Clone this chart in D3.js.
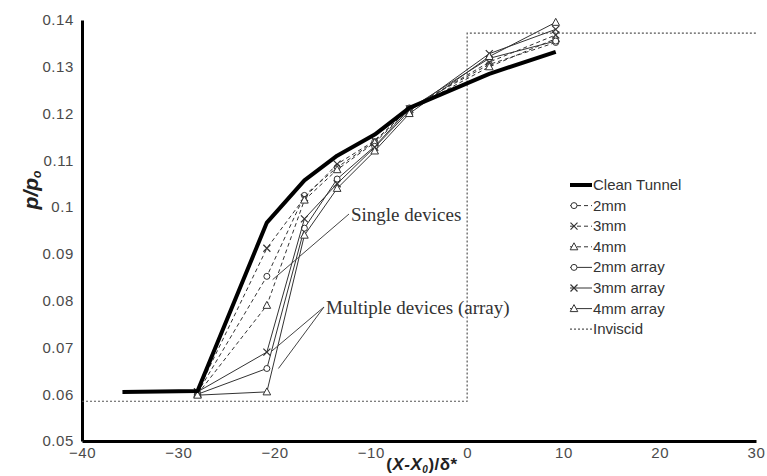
<!DOCTYPE html>
<html>
<head>
<meta charset="utf-8">
<script src="https://cdnjs.cloudflare.com/ajax/libs/d3/7.8.5/d3.min.js"></script>
<style>
  body { margin: 0; background: #fff; }
  svg { display: block; }
</style>
</head>
<body>
<script>
// stations along the ramp, (X-X0)/delta*
var xStations = [-28, -20.8, -16.9, -13.5, -9.6, -6, 2.3, 9.2];
var xClean = [-35.8, -28, -20.8, -16.9, -13.5, -9.6, -6, 2.3, 9.2];

var cleanTunnel = [0.0605, 0.0607, 0.0967, 0.1057, 0.1110, 0.1155, 0.1212, 0.1285, 0.1332];
var single2 = [0.0603, 0.0852, 0.1025, 0.1085, 0.1140, 0.1212, 0.1305, 0.1352];
var single3 = [0.0605, 0.0912, 0.1020, 0.1092, 0.1142, 0.1210, 0.1310, 0.1368];
var single4 = [0.0600, 0.0790, 0.1015, 0.1080, 0.1138, 0.1208, 0.1300, 0.1360];
var array2 = [0.0600, 0.0655, 0.0955, 0.1060, 0.1130, 0.1210, 0.1318, 0.1355];
var array3 = [0.0605, 0.0690, 0.0975, 0.1050, 0.1128, 0.1205, 0.1328, 0.1380];
var array4 = [0.0598, 0.0605, 0.0940, 0.1040, 0.1120, 0.1200, 0.1322, 0.1395];

var inviscidX = [-40, 0, 0, 30];
var inviscidY = [0.0585, 0.0585, 0.1372, 0.1372];

var xTicks = [-40, -30, -20, -10, 0, 10, 20, 30];
var yTicks = [0.05, 0.06, 0.07, 0.08, 0.09, 0.1, 0.11, 0.12, 0.13, 0.14];

var series = [
  {name: "2mm", x: xStations, y: single2, marker: "circle", dash: "4,3"},
  {name: "3mm", x: xStations, y: single3, marker: "cross", dash: "4,3"},
  {name: "4mm", x: xStations, y: single4, marker: "triangle", dash: "4,3"},
  {name: "2mm array", x: xStations, y: array2, marker: "circle", dash: null},
  {name: "3mm array", x: xStations, y: array3, marker: "cross", dash: null},
  {name: "4mm array", x: xStations, y: array4, marker: "triangle", dash: null}
];

var W = 767, H = 476;
var svg = d3.select("body").append("svg").attr("width", W).attr("height", H);

var x = d3.scaleLinear().domain([-40, 30]).range([82, 756]);
var y = d3.scaleLinear().domain([0.05, 0.14]).range([441, 20]);

var sans = "Liberation Sans, Arial, sans-serif";

// axes (no tick marks, just labels)
var xAxis = d3.axisBottom(x).tickValues(xTicks).tickSize(0).tickPadding(6).tickFormat(d3.format("d"));
var yAxis = d3.axisLeft(y).tickValues(yTicks).tickSize(0).tickPadding(8).tickFormat(function(d) { return d3.format("")(+d.toFixed(2)); });

var gx = svg.append("g").attr("transform", "translate(0," + y(0.05) + ")").call(xAxis);
var gy = svg.append("g").attr("transform", "translate(" + x(-40) + ",0)").call(yAxis);
[gx, gy].forEach(function(g) {
  g.select(".domain").attr("stroke", "#000").attr("stroke-width", 3);
  g.selectAll("text").attr("font-family", sans)
    .attr("font-size", 15).attr("letter-spacing", 0.6).attr("fill", "#4a4a4a");
});

var line = d3.line().x(function(d) { return x(d[0]); }).y(function(d) { return y(d[1]); });

// inviscid
svg.append("path")
  .datum(d3.zip(inviscidX, inviscidY))
  .attr("d", line)
  .attr("fill", "none").attr("stroke", "#555").attr("stroke-width", 1.2)
  .attr("stroke-dasharray", "2,2");

function drawMarker(g, type, cx, cy, stroke) {
  if (type === "circle") {
    g.append("circle").attr("cx", cx).attr("cy", cy).attr("r", 3)
      .attr("fill", "#fff").attr("stroke", stroke).attr("stroke-width", 1);
  } else if (type === "cross") {
    g.append("path").attr("d", "M" + (cx - 3.5) + "," + (cy - 3.5) + "L" + (cx + 3.5) + "," + (cy + 3.5) +
      "M" + (cx - 3.5) + "," + (cy + 3.5) + "L" + (cx + 3.5) + "," + (cy - 3.5))
      .attr("stroke", stroke).attr("stroke-width", 1.2);
  } else {
    g.append("path").attr("d", "M" + cx + "," + (cy - 4) + "L" + (cx + 3.8) + "," + (cy + 3) + "L" + (cx - 3.8) + "," + (cy + 3) + "Z")
      .attr("fill", "#fff").attr("stroke", stroke).attr("stroke-width", 1);
  }
}

series.forEach(function(s) {
  var pts = d3.zip(s.x, s.y);
  svg.append("path").datum(pts).attr("d", line)
    .attr("fill", "none").attr("stroke", "#333").attr("stroke-width", 1)
    .attr("stroke-dasharray", s.dash);
  var g = svg.append("g");
  pts.forEach(function(p) { drawMarker(g, s.marker, x(p[0]), y(p[1]), "#333"); });
});

// clean tunnel on top
svg.append("path")
  .datum(d3.zip(xClean, cleanTunnel))
  .attr("d", line)
  .attr("fill", "none").attr("stroke", "#000").attr("stroke-width", 4)
  .attr("stroke-linejoin", "round");

// annotations
var serif = "Liberation Serif, Times New Roman, serif";
svg.append("line").attr("x1", 349).attr("y1", 214).attr("x2", x(-20.2)).attr("y2", y(0.0845))
  .attr("stroke", "#444").attr("stroke-width", 1);
svg.append("text").attr("x", 351).attr("y", 221).text("Single devices")
  .attr("font-family", serif).attr("font-size", 19).attr("fill", "#333");

svg.append("line").attr("x1", 324).attr("y1", 307).attr("x2", x(-20.3)).attr("y2", y(0.0692))
  .attr("stroke", "#444").attr("stroke-width", 1);
svg.append("line").attr("x1", 324).attr("y1", 307).attr("x2", x(-19.6)).attr("y2", y(0.0655))
  .attr("stroke", "#444").attr("stroke-width", 1);
svg.append("text").attr("x", 326).attr("y", 314).text("Multiple devices (array)")
  .attr("font-family", serif).attr("font-size", 19).attr("fill", "#333");

// legend
var legendItems = [
  {name: "Clean Tunnel", marker: null, dash: null, width: 4},
  {name: "2mm", marker: "circle", dash: "4,3", width: 1},
  {name: "3mm", marker: "cross", dash: "4,3", width: 1},
  {name: "4mm", marker: "triangle", dash: "4,3", width: 1},
  {name: "2mm array", marker: "circle", dash: null, width: 1},
  {name: "3mm array", marker: "cross", dash: null, width: 1},
  {name: "4mm array", marker: "triangle", dash: null, width: 1},
  {name: "Inviscid", marker: null, dash: "2,2", width: 1.2}
];
var lg = svg.append("g").attr("transform", "translate(570,185)");
legendItems.forEach(function(it, i) {
  var yy = i * 20.6;
  lg.append("line").attr("x1", 0).attr("x2", 22).attr("y1", yy).attr("y2", yy)
    .attr("stroke", it.name === "Inviscid" ? "#555" : (it.width > 2 ? "#000" : "#333"))
    .attr("stroke-width", it.width).attr("stroke-dasharray", it.dash);
  if (it.marker) drawMarker(lg, it.marker, 4, yy, "#333");
  lg.append("text").attr("x", 23).attr("y", yy + 5).text(it.name)
    .attr("font-family", sans).attr("font-size", 15).attr("fill", "#333");
});

// axis titles
var yt = svg.append("text").attr("transform", "translate(38,190) rotate(-90)")
  .attr("text-anchor", "middle").attr("font-family", sans)
  .attr("font-size", 21).attr("font-weight", "bold").attr("font-style", "italic").attr("fill", "#222");
yt.append("tspan").text("p/p");
yt.append("tspan").attr("font-size", 12).attr("dy", 3).text("o");

var xt = svg.append("text").attr("x", 422).attr("y", 470)
  .attr("text-anchor", "middle").attr("font-family", sans).attr("letter-spacing", 0.5)
  .attr("font-size", 17).attr("font-weight", "bold").attr("fill", "#222");
xt.append("tspan").text("(");
xt.append("tspan").attr("font-style", "italic").text("X-X");
xt.append("tspan").attr("font-size", 10).attr("dy", 3).attr("font-style", "italic").text("0");
xt.append("tspan").attr("dy", -3).text(")/δ*");
</script>
</body>
</html>
